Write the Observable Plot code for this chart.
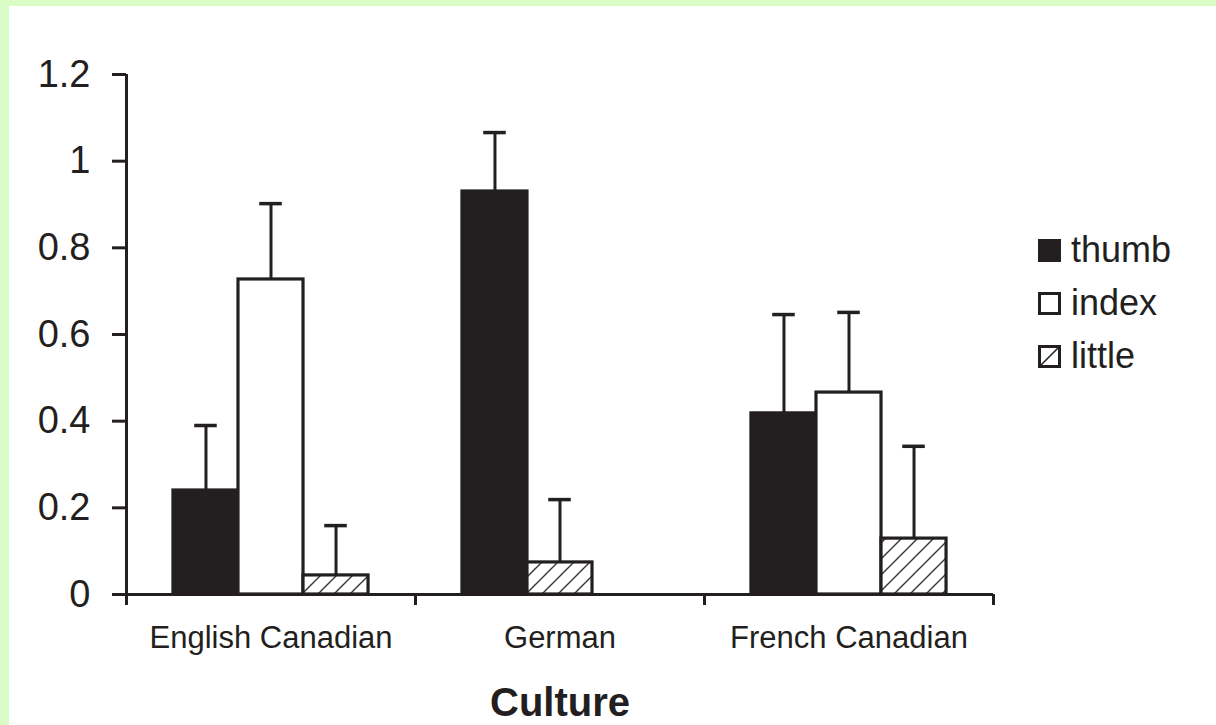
<!DOCTYPE html>
<html>
<head>
<meta charset="utf-8">
<script src="https://cdn.jsdelivr.net/npm/d3@7"></script>
<script src="https://cdn.jsdelivr.net/npm/@observablehq/plot@0.6"></script>
<style>
  html, body { margin: 0; padding: 0; }
  body { width: 1216px; height: 725px; background: #dafcc6; position: relative; overflow: hidden;
         font-family: "Liberation Sans", Arial, Helvetica, sans-serif; color: #231f20; }
  #panel { position: absolute; left: 9px; top: 6px; right: 0; bottom: 0; background: #fff; }
  #chart { position: absolute; left: 0; top: 0; }
  #legend { position: absolute; left: 1038px; top: 232px; }
  .item { position: absolute; left: 0; height: 36px; display: flex; align-items: center; white-space: nowrap; }
  .item svg { width: 23px; height: 23px; display: block; }
  .item span { font-size: 36px; margin-left: 10px; line-height: 36px; }
</style>
</head>
<body>
<div id="panel"></div>
<div id="chart"></div>
<div id="legend"></div>
<script>
// ---- data ----
const cultures = ["English Canadian", "German", "French Canadian"];
const fingers = ["thumb", "index", "little"];
const thumbMean  = [0.240, 0.930, 0.418];
const thumbErr   = [0.150, 0.136, 0.228];
const indexMean  = [0.727, null, 0.466];
const indexErr   = [0.175, null, 0.185];
const littleMean = [0.044, 0.074, 0.129];
const littleErr  = [0.115, 0.145, 0.213];
const yTicks = [0, 0.2, 0.4, 0.6, 0.8, 1, 1.2];

const means = {thumb: thumbMean, index: indexMean, little: littleMean};
const errs = {thumb: thumbErr, index: indexErr, little: littleErr};

// bars are packed from the left within each culture group
const rows = [];
cultures.forEach((c, ci) => {
  let slot = 0;
  fingers.forEach(f => {
    const m = means[f][ci];
    if (m == null) return;
    rows.push({culture: c, ci, finger: f, slot: slot++, mean: m, top: m + errs[f][ci]});
  });
});

const W = 0.225;       // bar width in group units
const CAP = 0.039;     // half cap width in group units
const left = d => d.ci + 0.5 + (d.slot - 1.5) * W;
const center = d => left(d) + W / 2;
const ink = "#231f20";

const chart = Plot.plot({
  width: 1216,
  height: 725,
  marginLeft: 126,
  marginRight: 223,
  marginTop: 74,
  marginBottom: 131,
  style: {background: "transparent", fontFamily: "'Liberation Sans', Arial, Helvetica, sans-serif", fontSize: "38px", color: ink, overflow: "visible"},
  x: {type: "linear", domain: [0, 3], ticks: [0, 1, 2, 3], tickSize: 11, tickFormat: () => "", label: null},
  y: {domain: [0, 1.2], ticks: yTicks, tickSize: 14, tickPadding: 22, tickFormat: d => String(d), label: null},
  color: {type: "ordinal", domain: fingers, range: [ink, "#ffffff", "url(#hatch)"]},
  marks: [
    Plot.rectY(rows, {x1: left, x2: d => left(d) + W, y1: 0, y2: "mean", fill: "finger", stroke: ink, strokeWidth: 3.2, inset: 0}),
    Plot.ruleX(rows, {x: center, y1: "mean", y2: "top", stroke: ink, strokeWidth: 3}),
    Plot.ruleY(rows, {y: "top", x1: d => center(d) - CAP, x2: d => center(d) + CAP, stroke: ink, strokeWidth: 3.5}),
    Plot.ruleX([0], {stroke: ink, strokeWidth: 3}),
    Plot.ruleY([0], {stroke: ink, strokeWidth: 3}),
    Plot.text(cultures, {x: (d, i) => i + 0.5, y: 0, dy: 44, text: d => d, fontSize: 31, fill: ink}),
    Plot.text(["Culture"], {frameAnchor: "bottom", lineAnchor: "middle", dy: 109, fontSize: 40, fontWeight: "bold", fill: ink})
  ]
});

const svgEl = chart.tagName.toLowerCase() === "svg" ? chart : chart.querySelector("svg");
const svg = d3.select(svgEl);
// thicken axis tick strokes
svg.selectAll('[aria-label*="axis"]').each(function() {
  const g = d3.select(this);
  g.attr("stroke-width", 3);
  g.selectAll("path, line").attr("stroke-width", 3).attr("stroke", ink);
  g.selectAll("path.domain").remove();
});
// hatch pattern definition
const defs = svg.insert("defs", ":first-child");
const pat = defs.append("pattern").attr("id", "hatch").attr("patternUnits", "userSpaceOnUse")
  .attr("width", 16).attr("height", 16);
pat.append("rect").attr("width", 16).attr("height", 16).attr("fill", "#fff");
pat.append("path").attr("d", "M-4,4 L4,-4 M0,16 L16,0 M12,20 L20,12")
  .attr("stroke", "#333").attr("stroke-width", 1.4).attr("fill", "none");
document.getElementById("chart").appendChild(chart);

// legend
const legend = d3.select("#legend");
const swatch = {
  thumb: `<svg viewBox="0 0 23 23"><rect x="0" y="0" width="23" height="23" fill="${ink}"/></svg>`,
  index: `<svg viewBox="0 0 23 23"><rect x="1.5" y="1.5" width="20" height="20" fill="#fff" stroke="${ink}" stroke-width="3"/></svg>`,
  little: `<svg viewBox="0 0 23 23"><rect x="1.5" y="1.5" width="20" height="20" fill="#fff" stroke="${ink}" stroke-width="3"/><path d="M3,20 L20,3" stroke="${ink}" stroke-width="1.6"/></svg>`
};
const tops = [0, 53, 106];
fingers.forEach((f, i) => {
  legend.append("div").attr("class", "item").style("top", tops[i] + "px")
    .html(swatch[f] + `<span>${f}</span>`);
});
</script>
</body>
</html>
